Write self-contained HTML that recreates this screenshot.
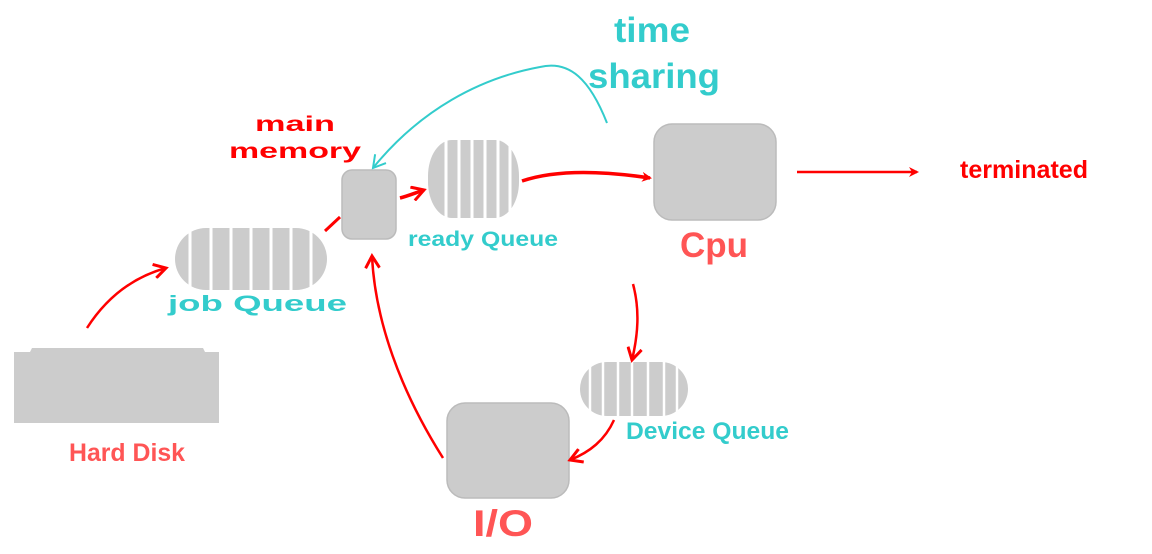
<!DOCTYPE html>
<html><head><meta charset="utf-8"><style>
html,body{margin:0;padding:0;background:#fff;}
svg{display:block}
text{font-family:"Liberation Sans",sans-serif;font-weight:bold}
</style></head><body>
<svg width="1152" height="554" viewBox="0 0 1152 554" xmlns="http://www.w3.org/2000/svg">
<defs>
<marker id="ar" markerWidth="10" markerHeight="10" refX="8" refY="5" orient="auto" markerUnits="userSpaceOnUse">
<path d="M0,0 L10,5 L0,10 L3,5 Z" fill="#f00"/></marker>
<marker id="ao" markerWidth="16" markerHeight="16" refX="13" refY="8" orient="auto" markerUnits="userSpaceOnUse">
<path d="M1,1 L13,8 L1,15" fill="none" stroke="#f00" stroke-width="3"/></marker>
<marker id="at" markerWidth="16" markerHeight="16" refX="13" refY="8" orient="auto" markerUnits="userSpaceOnUse">
<path d="M1,1 L13,8 L1,15" fill="none" stroke="#3cc" stroke-width="2"/></marker>
</defs>

<path d="M14,352 L30,352 L32,348 L203,348 L205,352 L219,352 L219,423 L14,423 Z" fill="#ccc"/>
<text x="69" y="461" fill="#f55" font-size="25" textLength="116" lengthAdjust="spacingAndGlyphs">Hard Disk</text>

<rect x="175" y="228" width="152" height="62" rx="31" fill="#ccc"/>
<g stroke="#fff" stroke-width="3">
<line x1="190" y1="228" x2="190" y2="290"/><line x1="211" y1="228" x2="211" y2="290"/>
<line x1="231" y1="228" x2="231" y2="290"/><line x1="251" y1="228" x2="251" y2="290"/>
<line x1="271" y1="228" x2="271" y2="290"/><line x1="291" y1="228" x2="291" y2="290"/>
<line x1="311" y1="228" x2="311" y2="290"/></g>
<text x="168" y="311" fill="#3cc" font-size="22" textLength="179" lengthAdjust="spacingAndGlyphs">job Queue</text>

<text x="255" y="131" fill="#f00" font-size="21" textLength="80" lengthAdjust="spacingAndGlyphs">main</text>
<text x="229" y="158" fill="#f00" font-size="21" textLength="132" lengthAdjust="spacingAndGlyphs">memory</text>
<rect x="342" y="170" width="54" height="69" rx="10" fill="#ccc" stroke="#bbb" stroke-width="1.5"/>

<rect x="428" y="140" width="91" height="78" rx="24" ry="36" fill="#ccc"/>
<g stroke="#fff" stroke-width="3">
<line x1="446" y1="140" x2="446" y2="218"/><line x1="459" y1="140" x2="459" y2="218"/>
<line x1="472" y1="140" x2="472" y2="218"/><line x1="485" y1="140" x2="485" y2="218"/>
<line x1="498" y1="140" x2="498" y2="218"/><line x1="510" y1="140" x2="510" y2="218"/></g>
<text x="408" y="246" fill="#3cc" font-size="21" textLength="150" lengthAdjust="spacingAndGlyphs">ready Queue</text>

<rect x="654" y="124" width="122" height="96" rx="18" fill="#ccc" stroke="#bbb" stroke-width="1.5"/>
<text x="680" y="257" fill="#f55" font-size="35" textLength="68" lengthAdjust="spacingAndGlyphs">Cpu</text>
<text x="960" y="178" fill="#f00" font-size="25" textLength="128" lengthAdjust="spacingAndGlyphs">terminated</text>

<rect x="580" y="362" width="108" height="54" rx="27" fill="#ccc"/>
<g stroke="#fff" stroke-width="2.5">
<line x1="590" y1="362" x2="590" y2="416"/><line x1="603" y1="362" x2="603" y2="416"/>
<line x1="618" y1="362" x2="618" y2="416"/><line x1="632" y1="362" x2="632" y2="416"/>
<line x1="648" y1="362" x2="648" y2="416"/><line x1="664" y1="362" x2="664" y2="416"/>
<line x1="677" y1="362" x2="677" y2="416"/></g>
<text x="626" y="439" fill="#3cc" font-size="24" textLength="163" lengthAdjust="spacingAndGlyphs">Device Queue</text>

<rect x="447" y="403" width="122" height="95" rx="18" fill="#ccc" stroke="#bbb" stroke-width="1.5"/>
<text x="473" y="536" fill="#f55" font-size="37" textLength="60" lengthAdjust="spacingAndGlyphs">I/O</text>

<text x="614" y="42" fill="#3cc" font-size="35" textLength="76" lengthAdjust="spacingAndGlyphs">time</text>
<text x="588" y="88" fill="#3cc" font-size="35" textLength="132" lengthAdjust="spacingAndGlyphs">sharing</text>
<path d="M607,123 C590,80 570,60 540,67 C480,78 420,110 373,168" fill="none" stroke="#3cc" stroke-width="2" marker-end="url(#at)"/>

<path d="M87,328 C105,300 130,278 166,268" fill="none" stroke="#f00" stroke-width="2.5" marker-end="url(#ao)"/>
<path d="M325,231 L340,217" fill="none" stroke="#f00" stroke-width="3"/>
<path d="M400,198 C408,196 415,193 424,190" fill="none" stroke="#f00" stroke-width="3.5" marker-end="url(#ao)"/>
<path d="M522,181 C560,168 610,172 650,178" fill="none" stroke="#f00" stroke-width="3.5" marker-end="url(#ar)"/>
<path d="M797,172 L917,172" fill="none" stroke="#f00" stroke-width="2.5" marker-end="url(#ar)"/>
<path d="M633,284 C640,310 638,335 632,360" fill="none" stroke="#f00" stroke-width="2.5" marker-end="url(#ao)"/>
<path d="M614,420 C605,440 590,452 570,460" fill="none" stroke="#f00" stroke-width="2.5" marker-end="url(#ao)"/>
<path d="M443,458 C400,390 375,320 372,256" fill="none" stroke="#f00" stroke-width="2.5" marker-end="url(#ao)"/>
</svg>
</body></html>
